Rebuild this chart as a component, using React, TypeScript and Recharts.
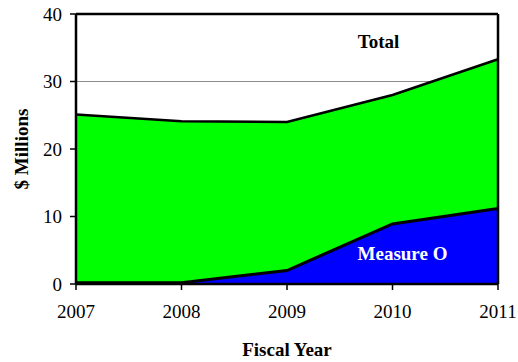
import {
  Area,
  AreaChart,
  CartesianGrid,
  Label,
  ReferenceDot,
  ReferenceLine,
  XAxis,
  YAxis,
} from "recharts";

const years = ["2007", "2008", "2009", "2010", "2011"];
const totalValues = [25.1, 24.1, 24.0, 28.0, 33.3];
const measureOValues = [0.2, 0.2, 2.0, 8.9, 11.2];
const yTicks = [0, 10, 20, 30, 40];

const data = years.map((year, i) => ({
  year,
  total: totalValues[i],
  measureO: measureOValues[i],
}));

const font = "'Liberation Serif', 'Times New Roman', serif";
const tickStyle = { fill: "#000", fontSize: 19, fontFamily: font };

export default function App() {
  return (
    <div style={{ position: "absolute", left: 0, top: 0, width: 518, height: 362, background: "#fff" }}>
      <AreaChart width={518} height={362} data={data} margin={{ top: 14, right: 20, bottom: 0, left: 0 }}>
        <CartesianGrid vertical={false} stroke="#8c8c8c" strokeWidth={1} />
        <XAxis
          dataKey="year"
          height={78}
          tick={tickStyle}
          tickSize={6}
          tickMargin={15}
          axisLine={{ stroke: "#000", strokeWidth: 2.5 }}
          tickLine={{ stroke: "#000", strokeWidth: 1.5 }}
          interval={0}
        >
          <Label
            content={() => (
              <text x={287} y={356} textAnchor="middle" fontFamily={font} fontSize={19} fontWeight="bold" fill="#000">
                Fiscal Year
              </text>
            )}
          />
        </XAxis>
        <YAxis
          width={76}
          domain={[0, 40]}
          ticks={yTicks}
          tick={tickStyle}
          tickSize={6}
          tickMargin={8}
          axisLine={{ stroke: "#000", strokeWidth: 2.5 }}
          tickLine={{ stroke: "#000", strokeWidth: 1.5 }}
        >
          <Label
            content={() => (
              <text
                x={28}
                y={149}
                transform="rotate(-90, 28, 149)"
                textAnchor="middle"
                fontFamily={font}
                fontSize={19}
                fontWeight="bold"
                fill="#000"
              >
                $ Millions
              </text>
            )}
          />
        </YAxis>
        <Area
          type="linear"
          dataKey="total"
          stroke="#000"
          strokeWidth={2.5}
          fill="#00ff00"
          fillOpacity={1}
          isAnimationActive={false}
        />
        <Area
          type="linear"
          dataKey="measureO"
          stroke="#000"
          strokeWidth={3}
          fill="#0000ff"
          fillOpacity={1}
          isAnimationActive={false}
        />
        <ReferenceLine y={40} stroke="#000" strokeWidth={2.5} />
        <ReferenceLine x="2011" stroke="#000" strokeWidth={2.5} />
        <ReferenceDot
          x="2010"
          y={35.9}
          r={0}
          stroke="none"
          label={{ value: "Total", position: "center", dx: -14, fontFamily: font, fontSize: 19, fontWeight: "bold", fill: "#000" }}
        />
        <ReferenceDot
          x="2010"
          y={4.6}
          r={0}
          stroke="none"
          label={{ value: "Measure O", position: "center", dx: 10, fontFamily: font, fontSize: 19, fontWeight: "bold", fill: "#fff" }}
        />
      </AreaChart>
    </div>
  );
}
